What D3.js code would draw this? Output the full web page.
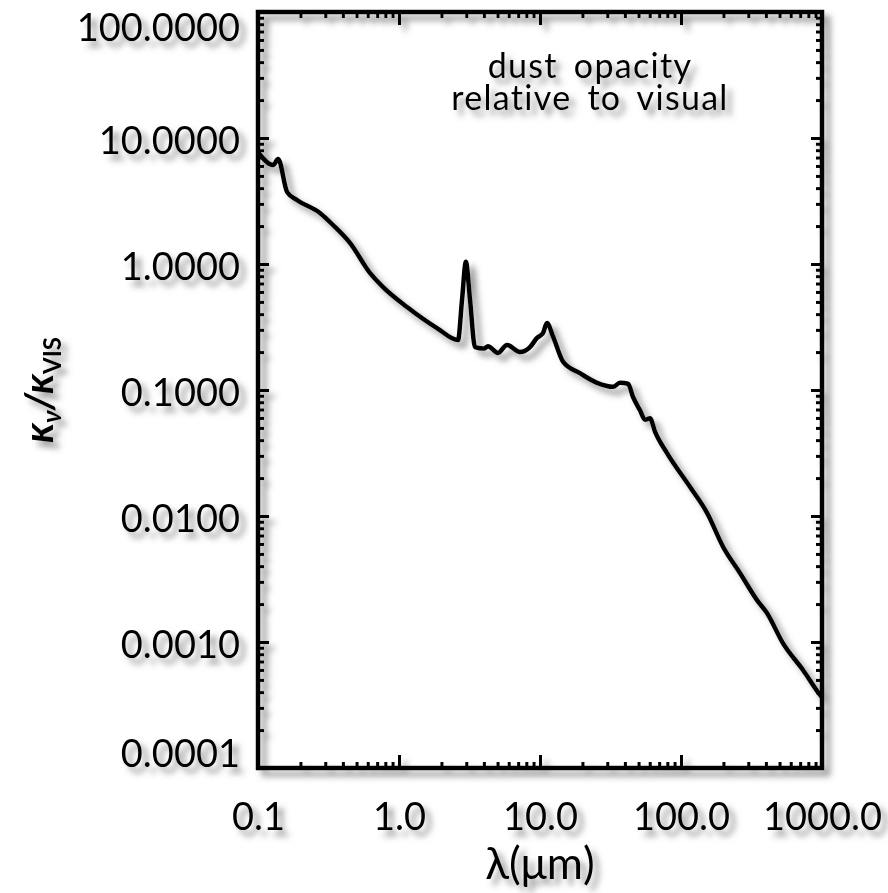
<!DOCTYPE html>
<html lang="en">
<head>
<meta charset="UTF-8">
<title>dust opacity</title>
<style>
  body { margin: 0; background: #fff; }
  svg text { font-family: Lato, "DejaVu Sans", sans-serif; fill: #000; }
</style>
</head>
<body>
<svg id="chart" width="888" height="893"></svg>
<script src="https://d3js.org/d3.v7.min.js"></script>
<script>
// wavelength in micron, opacity relative to visual
var wavelength = [0.100, 0.128, 0.139, 0.161, 0.189, 0.275, 0.340, 0.449, 0.622, 0.771,
  1.14, 1.86, 2.62, 2.80, 2.98, 3.19, 3.46, 4.0, 4.27, 5.04, 5.83, 7.21, 8.49, 9.53,
  10.5, 11.2, 12.4, 14.6, 19.2, 25.4, 33.0, 36.9, 42.1, 45.7, 51.2, 55.6, 60.3, 65.5,
  79.6, 116, 153, 199, 262, 346, 407, 528, 733, 968, 1000];
var opacity = [7.74, 6.1, 6.8, 3.72, 3.22, 2.54, 2.04, 1.47, 0.85, 0.656,
  0.456, 0.31, 0.249, 0.52, 1.04, 0.52, 0.219, 0.213, 0.222, 0.197, 0.228, 0.20, 0.219, 0.259,
  0.283, 0.34, 0.264, 0.167, 0.136, 0.114, 0.106, 0.114, 0.112, 0.088, 0.069, 0.058, 0.0596, 0.0465,
  0.0316, 0.017, 0.0106, 0.00568, 0.00353, 0.00215, 0.0017, 0.00098, 0.0006, 0.00038, 0.000363];

var xMajor = [0.1, 1, 10, 100, 1000];
var xLabels = ["0.1", "1.0", "10.0", "100.0", "1000.0"];
var yMajor = [0.0001, 0.001, 0.01, 0.1, 1, 10, 100];
var yLabels = ["0.0001", "0.0010", "0.0100", "0.1000", "1.0000", "10.0000", "100.0000"];
var titleLines = ["dust opacity", "relative to visual"];

var pLeft = 258, pRight = 822, pTop = 12, pBottom = 768;

var svg = d3.select("#chart");

// soft grey shadow like the original plot
var defs = svg.append("defs");
var f = defs.append("filter").attr("id", "shadow")
  .attr("x", "-20%").attr("y", "-20%").attr("width", "140%").attr("height", "140%");
f.append("feDropShadow").attr("dx", 6).attr("dy", 6).attr("stdDeviation", 3)
  .attr("flood-color", "#666").attr("flood-opacity", 0.7);

var g = svg.append("g").attr("filter", "url(#shadow)");

var x = d3.scaleLog().domain([0.1, 1000]).range([pLeft, pRight]);
var y = d3.scaleLog().domain([0.0001, 100]).range([pBottom, pTop]);

var xMinor = x.ticks().filter(function(d) { return xMajor.indexOf(d) < 0; });
var yMinor = y.ticks().filter(function(d) { return yMajor.indexOf(d) < 0; });

// ticks on all four sides, pointing inwards
var axes = [
  [d3.axisBottom(x), "translate(0," + pBottom + ")", -13],
  [d3.axisTop(x), "translate(0," + pTop + ")", -13],
  [d3.axisLeft(y), "translate(" + pLeft + ",0)", -11],
  [d3.axisRight(y), "translate(" + pRight + ",0)", -11]
];
axes.forEach(function(a, k) {
  var major = k < 2 ? xMajor : yMajor;
  var minor = k < 2 ? xMinor : yMinor;
  [[major, a[2]], [minor, -6]].forEach(function(t) {
    var ax = g.append("g").attr("transform", a[1])
      .call(a[0].tickValues(t[0]).tickSize(t[1]).tickFormat(""));
    ax.select(".domain").remove();
    ax.selectAll("line").attr("stroke", "#000").attr("stroke-width", 3);
  });
});

// frame
g.append("rect")
  .attr("x", pLeft).attr("y", pTop)
  .attr("width", pRight - pLeft).attr("height", pBottom - pTop)
  .attr("fill", "none").attr("stroke", "#000").attr("stroke-width", 4.5);

// curve
var pts = wavelength.map(function(w, i) { return [w, opacity[i]]; });
var line = d3.line()
  .x(function(d) { return x(d[0]); })
  .y(function(d) { return y(d[1]); })
  .curve(d3.curveMonotoneX);
g.append("path").datum(pts)
  .attr("d", line)
  .attr("fill", "none").attr("stroke", "#000")
  .attr("stroke-width", 4.5).attr("stroke-linejoin", "round");

// tick labels
var xl = g.append("g").attr("transform", "translate(0," + (pBottom + 62) + ")")
  .call(d3.axisBottom(x).tickValues(xMajor).tickSize(0).tickPadding(0)
    .tickFormat(function(d, i) { return xLabels[i]; }));
xl.select(".domain").remove();
xl.selectAll("text").attr("font-size", 38).attr("dy", 0)
  .style("font-family", "Lato, 'DejaVu Sans', sans-serif");

var yl = g.append("g").attr("transform", "translate(" + (pLeft - 18) + ",0)")
  .call(d3.axisLeft(y).tickValues(yMajor).tickSize(0).tickPadding(0)
    .tickFormat(function(d, i) { return yLabels[i]; }));
yl.select(".domain").remove();
yl.selectAll(".tick").attr("transform", function(d) {
  var p = Math.min(Math.max(y(d) + 2, pTop + 15), pBottom - 15);
  return "translate(0," + p + ")";
});
yl.selectAll("text").attr("font-size", 38).attr("dy", "0.36em")
  .style("font-family", "Lato, 'DejaVu Sans', sans-serif");

// annotation
g.append("text")
  .attr("x", 590).attr("y", 78)
  .attr("text-anchor", "middle").attr("font-size", 34)
  .attr("letter-spacing", 1.3).attr("word-spacing", 6)
  .selectAll("tspan").data(titleLines).enter().append("tspan")
  .attr("x", 590).attr("dy", function(d, i) { return i ? 32 : 0; })
  .text(function(d) { return d; });

// axis titles
g.append("text")
  .attr("x", (pLeft + pRight) / 2).attr("y", 879)
  .attr("text-anchor", "middle").attr("font-size", 44)
  .text("λ(μm)");

var yt = g.append("text")
  .attr("transform", "translate(53," + ((pTop + pBottom) / 2) + ") rotate(-90)")
  .attr("text-anchor", "middle").attr("font-size", 40)
  .attr("font-weight", "bold").attr("font-style", "italic");
yt.append("tspan").text("κ");
yt.append("tspan").attr("font-size", 26).attr("dy", 8).text("ν");
yt.append("tspan").attr("dy", -8).text("/");
yt.append("tspan").text("κ");
yt.append("tspan").attr("font-size", 24).attr("dy", 8).attr("font-style", "normal").text("VIS");
</script>
</body>
</html>
